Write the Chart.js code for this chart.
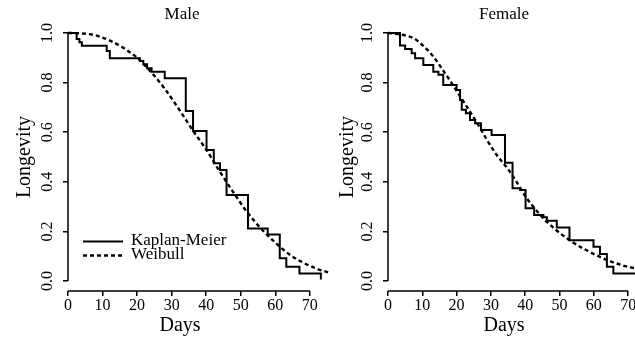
<!DOCTYPE html>
<html><head><meta charset="utf-8">
<script src="https://cdn.jsdelivr.net/npm/chart.js@4.4.1/dist/chart.umd.min.js"></script>
<style>
html,body{margin:0;padding:0;background:#fff;}
#wrap{position:relative;width:635px;height:337px;overflow:hidden;background:#fff;}
#c1{position:absolute;left:0;top:0;}
#c2{position:absolute;left:318px;top:0;}
</style></head><body>
<div id="wrap">
<canvas id="c1" width="340" height="337"></canvas>
<canvas id="c2" width="330" height="337"></canvas>
</div>
<script>
// ---- data ----
const xTicks = [0, 10, 20, 30, 40, 50, 60, 70];
const yTicks = [0, 0.2, 0.4, 0.6, 0.8, 1.0];
const seriesLabels = ['Kaplan-Meier', 'Weibull'];
const panelTitles = ['Male', 'Female'];

const maleKmDays = [0, 2.5, 3.3, 4.0, 11.2, 12.1, 20.8, 21.8, 22.9, 24.2, 28.0, 34.1, 36.2, 40.1, 42.2, 44.0, 45.9, 52.1, 57.8, 61.3, 63.2, 67.0, 73.2];
const maleKmSurv = [1.0, 0.976, 0.962, 0.948, 0.927, 0.898, 0.887, 0.874, 0.858, 0.844, 0.817, 0.685, 0.605, 0.528, 0.475, 0.448, 0.347, 0.212, 0.188, 0.092, 0.058, 0.031, 0.006];

const maleWbDays = [0, 4, 8, 12, 16, 20, 24, 28, 32, 36, 40, 44, 48, 52, 56, 60, 64, 68, 72, 76];
const maleWbSurv = [1.0, 0.998, 0.99, 0.97, 0.94, 0.90, 0.843, 0.775, 0.695, 0.61, 0.53, 0.44, 0.355, 0.275, 0.21, 0.155, 0.108, 0.075, 0.05, 0.032];

const femaleKmDays = [0, 3.5, 5.0, 6.9, 7.9, 10.3, 13.2, 14.7, 16.1, 20.0, 21.0, 21.5, 22.7, 23.9, 25.4, 27.1, 30.2, 34.1, 36.3, 38.5, 40.1, 42.6, 45.3, 46.3, 49.2, 52.9, 59.9, 61.8, 63.8, 65.7, 75];
const femaleKmSurv = [1.0, 0.949, 0.935, 0.918, 0.898, 0.871, 0.844, 0.831, 0.790, 0.770, 0.730, 0.690, 0.676, 0.649, 0.636, 0.609, 0.589, 0.477, 0.374, 0.367, 0.293, 0.266, 0.257, 0.243, 0.216, 0.165, 0.138, 0.109, 0.058, 0.031, 0.031];

const femaleWbDays = [0, 3, 5, 7.4, 10.3, 13.2, 16.1, 18.6, 21, 23.9, 26.8, 28.8, 31.7, 34.6, 36.5, 40.4, 44.3, 48.2, 53.1, 57.9, 63.8, 68, 72, 76];
const femaleWbSurv = [1.0, 0.995, 0.99, 0.979, 0.948, 0.905, 0.848, 0.797, 0.745, 0.683, 0.618, 0.57, 0.508, 0.458, 0.421, 0.335, 0.268, 0.215, 0.163, 0.124, 0.085, 0.065, 0.051, 0.04];

// ---- helpers ----
const FONT = '"Liberation Serif", "Times New Roman", serif';
const pts = (xs, ys) => xs.map((v, i) => ({x: v, y: ys[i]}));

const rStyle = {
  id: 'rStyle',
  afterDraw(chart, args, o) {
    const {ctx, chartArea: a, scales: {x, y}} = chart;
    ctx.save();
    ctx.strokeStyle = '#000';
    ctx.fillStyle = '#000';
    ctx.lineWidth = 1.5;
    ctx.beginPath();
    ctx.moveTo(a.left, y.getPixelForValue(yTicks[0]));
    ctx.lineTo(a.left, y.getPixelForValue(yTicks[yTicks.length - 1]));
    ctx.moveTo(x.getPixelForValue(xTicks[0]), a.bottom);
    ctx.lineTo(x.getPixelForValue(xTicks[xTicks.length - 1]), a.bottom);
    ctx.stroke();
    ctx.textAlign = 'center';
    ctx.textBaseline = 'middle';
    ctx.font = '17px ' + FONT;
    ctx.fillText(o.title, o.titleX, o.titleY);
    ctx.font = '20px ' + FONT;
    ctx.fillText(o.xTitle, o.xTitleX, o.xTitleY);
    if (o.legend) {
      chart.data.datasets.forEach((d, i) => {
        const ly = o.legendY + i * o.legendGap;
        ctx.lineWidth = d.borderWidth;
        ctx.setLineDash(d.borderDash || []);
        ctx.beginPath();
        ctx.moveTo(o.legendX, ly);
        ctx.lineTo(o.legendX + 40, ly);
        ctx.stroke();
        ctx.setLineDash([]);
        ctx.textAlign = 'left';
        ctx.font = '17px ' + FONT;
        ctx.fillText(d.label, o.legendX + 48, ly - 1);
      });
    }
    ctx.restore();
  }
};

function makeChart(id, km, wb, cfg) {
  return new Chart(document.getElementById(id), {
    type: 'line',
    data: {
      datasets: [
        {label: seriesLabels[0], data: km, stepped: 'before', borderColor: '#000', borderWidth: 2,
         pointRadius: 0, fill: false, tension: 0},
        {label: seriesLabels[1], data: wb, borderColor: '#000', borderWidth: 2.4, borderDash: [4, 3],
         pointRadius: 0, fill: false, tension: 0.3, cubicInterpolationMode: 'monotone'}
      ]
    },
    plugins: [rStyle],
    options: {
      responsive: false,
      animation: false,
      devicePixelRatio: 1,
      layout: {padding: {left: 0, right: cfg.padRight, top: 23, bottom: 0}},
      plugins: {
        legend: {display: false},
        tooltip: {enabled: false},
        title: {display: false},
        rStyle: cfg.r
      },
      scales: {
        x: {
          type: 'linear', min: 0, max: cfg.xMax,
          afterBuildTicks: s => { s.ticks = xTicks.map(v => ({value: v})); },
          afterFit: s => { s.height = 46; },
          grid: {display: true, drawOnChartArea: false, drawTicks: true, tickLength: 5, color: '#000', lineWidth: 1.5},
          border: {display: false},
          ticks: {autoSkip: false, maxRotation: 0, minRotation: 0, padding: 0, color: '#000',
                  font: {family: FONT, size: 16}, callback: v => String(v)}
        },
        y: {
          type: 'linear', min: -0.04, max: 1.04,
          afterBuildTicks: s => { s.ticks = yTicks.map(v => ({value: v})); },
          afterFit: s => { s.width = cfg.yWidth; },
          grid: {display: true, drawOnChartArea: false, drawTicks: true, tickLength: 5, color: '#000', lineWidth: 1.5},
          border: {display: false},
          ticks: {minRotation: 90, maxRotation: 90, crossAlign: 'center', padding: 5, color: '#000',
                  font: {family: FONT, size: 16}, callback: v => v.toFixed(1)},
          title: {display: true, text: 'Longevity', color: '#000', font: {family: FONT, size: 20},
                  padding: {top: cfg.yTitlePad, bottom: 0}}
        }
      }
    }
  });
}

makeChart('c1', pts(maleKmDays, maleKmSurv), pts(maleWbDays, maleWbSurv), {
  padRight: 6, xMax: 77, yWidth: 68, yTitlePad: 13,
  r: {title: panelTitles[0], titleX: 182, titleY: 15, xTitle: 'Days', xTitleX: 180, xTitleY: 326,
      legend: true, legendX: 83, legendY: 241.5, legendGap: 14}
});
makeChart('c2', pts(femaleKmDays, femaleKmSurv), pts(femaleWbDays, femaleWbSurv), {
  padRight: 13, xMax: 72, yWidth: 70, yTitlePad: 18,
  r: {title: panelTitles[1], titleX: 186, titleY: 15, xTitle: 'Days', xTitleX: 186, xTitleY: 326,
      legend: false}
});
</script>
</body></html>
